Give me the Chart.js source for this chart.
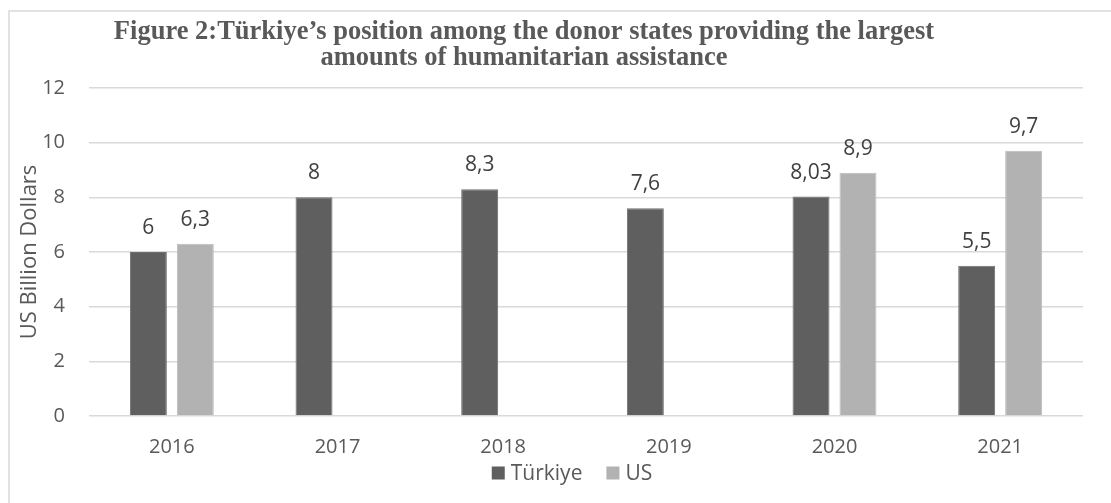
<!DOCTYPE html>
<html lang="en">
<head>
  <meta charset="UTF-8" />
  <title>Figure 2 - Türkiye humanitarian assistance</title>
  <script src="https://cdn.jsdelivr.net/npm/chart.js"></script>
  <style>
    * { box-sizing: border-box; }
    html, body {
      margin: 0;
      padding: 0;
      background: #ffffff;
    }
    .wrap {
      position: relative;
      width: 1111px;
      height: 503px;
    }
  </style>
</head>
<body>
  <div class="wrap">
    <canvas id="aidChart" width="1111" height="503"></canvas>
  </div>

  <script>
    const years = ['2016', '2017', '2018', '2019', '2020', '2021'];
    const turkiyeValues = [6, 8, 8.3, 7.6, 8.03, 5.5];
    const usValues = [6.3, null, null, null, 8.9, 9.7];
    const seriesNames = ['Türkiye', 'US'];
    const titleLines = [
      'Figure 2:Türkiye\u2019s position among the donor states providing the largest',
      'amounts of humanitarian assistance'
    ];
    const yAxisTitle = 'US Billion Dollars';

    const textGrey = '#595959';
    const sansFont = '"Open Sans", sans-serif';

    // light frame round the picture (only left and top edges fall inside)
    const framePlugin = {
      id: 'frame',
      beforeDraw(chart) {
        const c = chart.ctx;
        c.save();
        c.fillStyle = '#ffffff';
        c.fillRect(0, 0, chart.width, chart.height);
        c.strokeStyle = '#d9d9d9';
        c.lineWidth = 1.5;
        c.beginPath();
        c.moveTo(9, chart.height);
        c.lineTo(9, 11);
        c.lineTo(chart.width, 11);
        c.stroke();
        c.restore();
      }
    };

    // two-line serif title, a little left of centre like the original
    const titlePlugin = {
      id: 'bigTitle',
      afterDraw(chart) {
        const c = chart.ctx;
        c.save();
        c.font = 'bold 26.5px "Liberation Serif", "Times New Roman", serif';
        c.fillStyle = textGrey;
        c.textAlign = 'center';
        c.textBaseline = 'alphabetic';
        c.fillText(titleLines[0], 524, 39);
        c.fillText(titleLines[1], 524, 65);
        c.restore();
      }
    };

    // value labels above the bars, with decimal comma
    const valueLabels = {
      id: 'valueLabels',
      afterDatasetsDraw(chart) {
        const c = chart.ctx;
        c.save();
        c.font = '21px ' + sansFont;
        c.fillStyle = '#404040';
        c.textAlign = 'center';
        c.textBaseline = 'alphabetic';
        chart.data.datasets.forEach((ds, i) => {
          const meta = chart.getDatasetMeta(i);
          meta.data.forEach((bar, j) => {
            const v = ds.data[j];
            if (v === null || v === undefined) return;
            c.fillText(String(v).replace('.', ','), bar.x, bar.y - 18);
          });
        });
        c.restore();
      }
    };

    // legend drawn by hand under the axis labels, from the dataset list
    const bottomLegend = {
      id: 'bottomLegend',
      afterDraw(chart) {
        const c = chart.ctx;
        const box = 13, gap = 6, spacing = 24;
        const midX = 572, midY = 473;
        c.save();
        c.font = '21px ' + sansFont;
        c.textBaseline = 'middle';
        c.textAlign = 'left';
        const items = chart.data.datasets.map(ds => ({
          text: ds.label,
          color: ds.backgroundColor,
          w: box + gap + c.measureText(ds.label).width
        }));
        const total = items.reduce((s, it) => s + it.w, 0) + spacing * (items.length - 1);
        let x = midX - total / 2;
        items.forEach(it => {
          c.fillStyle = it.color;
          c.fillRect(x, midY - box / 2, box, box);
          c.fillStyle = textGrey;
          c.fillText(it.text, x + box + gap, midY + 1);
          x += it.w + spacing;
        });
        c.restore();
      }
    };

    const ctx = document.getElementById('aidChart').getContext('2d');
    const chart = new Chart(ctx, {
      type: 'bar',
      data: {
        labels: years,
        datasets: [
          {
            label: seriesNames[0],
            data: turkiyeValues,
            backgroundColor: '#5f5f5f',
            borderColor: '#6e6e6e',
            borderWidth: 1,
            categoryPercentage: 0.567,
            barPercentage: 0.787
          },
          {
            label: seriesNames[1],
            data: usValues,
            backgroundColor: '#b2b2b2',
            borderColor: '#bdbdbd',
            borderWidth: 1,
            categoryPercentage: 0.567,
            barPercentage: 0.787
          }
        ]
      },
      options: {
        responsive: false,
        animation: false,
        layout: {
          padding: { top: 88, left: 10, right: 28, bottom: 47 }
        },
        scales: {
          x: {
            grid: { display: false },
            border: { display: false },
            ticks: {
              color: textGrey,
              padding: 11,
              font: { family: sansFont, size: 20 }
            },
            afterFit(scale) {
              scale.height = 40;
            }
          },
          y: {
            min: 0,
            max: 12,
            ticks: {
              stepSize: 2,
              color: textGrey,
              padding: 24,
              font: { family: sansFont, size: 20 }
            },
            grid: {
              color: '#d9d9d9',
              lineWidth: 1.5,
              drawTicks: false
            },
            border: { display: false },
            title: {
              display: true,
              text: yAxisTitle,
              color: textGrey,
              padding: { top: 7, bottom: 4 },
              font: { family: sansFont, size: 22 }
            },
            afterFit(scale) {
              scale.width = 79;
            }
          }
        },
        plugins: {
          legend: { display: false },
          tooltip: { enabled: false }
        }
      },
      plugins: [framePlugin, titlePlugin, valueLabels, bottomLegend]
    });
  </script>
</body>
</html>
